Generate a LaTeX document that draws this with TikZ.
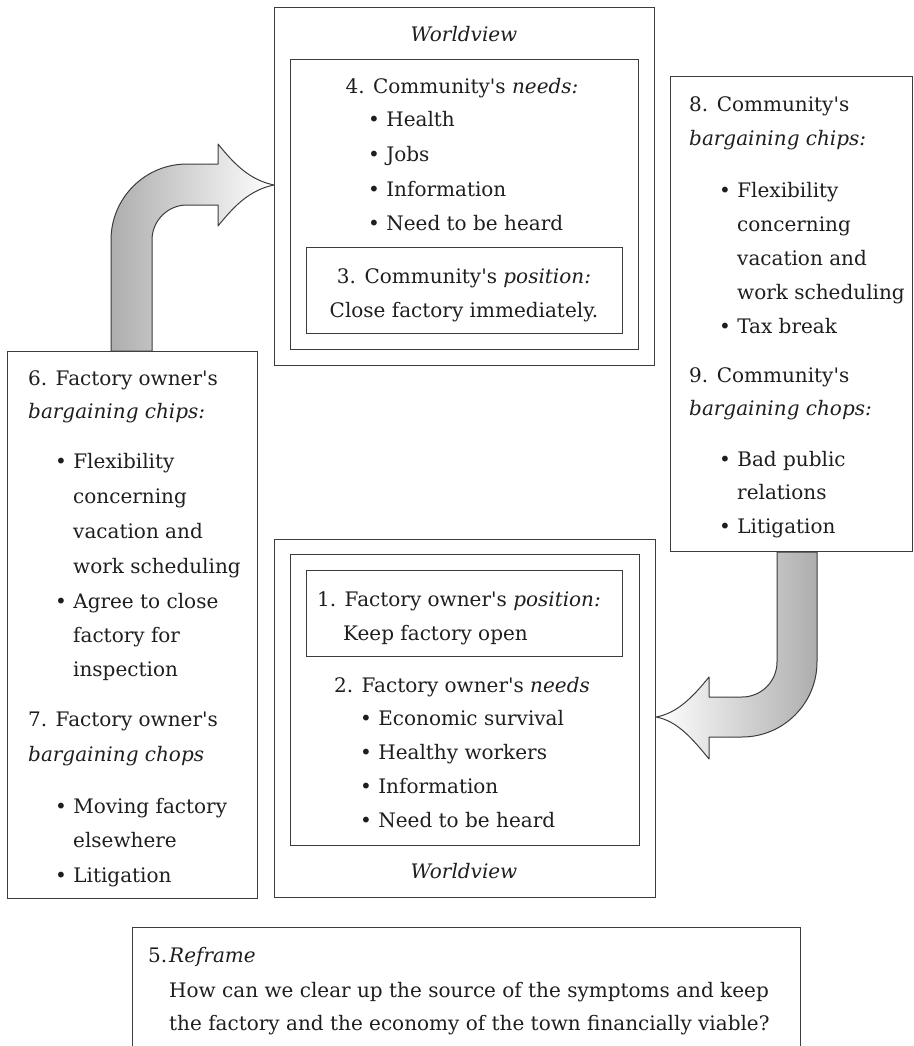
\documentclass[tikz,border=0pt]{standalone}
\usepackage{fontspec}
\setmainfont{DejaVu Serif}[Ligatures=TeXOff]
\begin{document}
\definecolor{ink}{HTML}{1E1E1E}
\definecolor{edge}{HTML}{3C3C3C}
\newcommand\putl[4]{\node[txt] (#1) at (#2,#3) {#4};}
\newcommand\putc[4]{\node[ctxt] (#1) at (#2,#3) {#4};}
\begin{tikzpicture}[x=1pt,y=-1pt,
  box/.style={draw=edge, line width=1.2pt, anchor=north west, inner sep=0, fill=none},
  txt/.style={anchor=base west, inner sep=0, text=ink, font=\fontsize{20}{24}\selectfont},
  ctxt/.style={anchor=base, inner sep=0, text=ink, font=\fontsize{20}{24}\selectfont},
  blockarrow/.style={draw=edge, line width=1pt, line join=round}]
\useasboundingbox (0,0) rectangle (913,1046);
\clip (0,0) rectangle (913,1046);
% boxes
\node[box, minimum width=380pt, minimum height=358pt] (tO) at (274,7) {};
\node[box, minimum width=348pt, minimum height=290pt] (tI) at (290,59) {};
\node[box, minimum width=316pt, minimum height=86pt] (tP) at (306,247) {};
\node[box, minimum width=242pt, minimum height=475pt] (rB) at (670,76) {};
\node[box, minimum width=250pt, minimum height=547pt] (lB) at (7,351) {};
\node[box, minimum width=381pt, minimum height=358pt] (bO) at (274,539) {};
\node[box, minimum width=349pt, minimum height=291pt] (bI) at (290,554) {};
\node[box, minimum width=316pt, minimum height=86pt] (bP) at (306,570) {};
\node[box, minimum width=668pt, minimum height=140pt] (fB) at (132,927) {};
% arrow 1: from left box up and right to top worldview
\path[blockarrow, left color=black!32, right color=white]
  (111,0 |- lB.north) -- (111,240)
  .. controls (111,198) and (145,164) .. (187,164) -- (218,164) -- (218,144)
  .. controls (235,165) and (250,180) .. (tO.west |- 0,185)
  .. controls (250,190) and (235,205) .. (218,226) -- (218,205) -- (187,205)
  .. controls (167.7,205) and (152,220.7) .. (152,240) -- (152,0 |- lB.north) -- cycle;
% arrow 2: from right box down and left to bottom worldview
\path[blockarrow, left color=white, right color=black!32]
  (777,0 |- rB.south) -- (777,662)
  .. controls (777,681.3) and (761.3,697) .. (742,697) -- (709,697) -- (709,677)
  .. controls (692,698) and (677,713) .. (bO.east |- 0,717)
  .. controls (677,721) and (692,738) .. (709,759) -- (709,737) -- (742,737)
  .. controls (783.4,737) and (817,703.4) .. (817,662) -- (817,0 |- rB.south) -- cycle;
% top centre
\putc{wvT}{464}{42}{\textit{Worldview}}
\putc{nT}{462}{94}{4. Community's \textit{needs:}}
\putl{nT1}{368}{127}{• Health}
\putl{nT2}{368}{161}{• Jobs}
\putl{nT3}{368}{196}{• Information}
\putl{nT4}{368}{230}{• Need to be heard}
\putc{pT1}{464}{283}{3. Community's \textit{position:}}
\putc{pT2}{464}{317}{Close factory immediately.}
% right box
\putl{r1}{689}{112}{8. Community's}
\putl{r2}{689}{146}{\textit{bargaining chips:}}
\putl{r3}{719}{197}{• Flexibility}
\putl{r4}{737}{231}{concerning}
\putl{r5}{737}{265}{vacation and}
\putl{r6}{737}{299}{work scheduling}
\putl{r7}{719}{333}{• Tax break}
\putl{r8}{689}{382}{9. Community's}
\putl{r9}{689}{415}{\textit{bargaining chops:}}
\putl{r10}{719}{466}{• Bad public}
\putl{r11}{737}{499}{relations}
\putl{r12}{719}{533}{• Litigation}
% left box
\putl{l1}{28}{385}{6. Factory owner's}
\putl{l2}{28}{418}{\textit{bargaining chips:}}
\putl{l3}{55}{468}{• Flexibility}
\putl{l4}{73}{503}{concerning}
\putl{l5}{73}{538}{vacation and}
\putl{l6}{73}{573}{work scheduling}
\putl{l7}{55}{608}{• Agree to close}
\putl{l8}{73}{642}{factory for}
\putl{l9}{73}{676}{inspection}
\putl{l10}{28}{726}{7. Factory owner's}
\putl{l11}{28}{761}{\textit{bargaining chops}}
\putl{l12}{55}{813}{• Moving factory}
\putl{l13}{73}{847}{elsewhere}
\putl{l14}{55}{882}{• Litigation}
% bottom centre
\putl{bp1}{317}{606}{1. Factory owner's \textit{position:}}
\putl{bp2}{343}{640}{Keep factory open}
\putc{bn}{462}{692}{2. Factory owner's \textit{needs}}
\putl{bn1}{360}{725}{• Economic survival}
\putl{bn2}{360}{759}{• Healthy workers}
\putl{bn3}{360}{793}{• Information}
\putl{bn4}{360}{827}{• Need to be heard}
\putc{wvB}{464}{878}{\textit{Worldview}}
% reframe
\putl{f1}{148}{962}{5.}
\putl{f2}{169}{962}{\textit{Reframe}}
\putl{f3}{169}{997}{How can we clear up the source of the symptoms and keep}
\putl{f4}{169}{1030}{the factory and the economy of the town financially viable?}
\end{tikzpicture}
\end{document}
